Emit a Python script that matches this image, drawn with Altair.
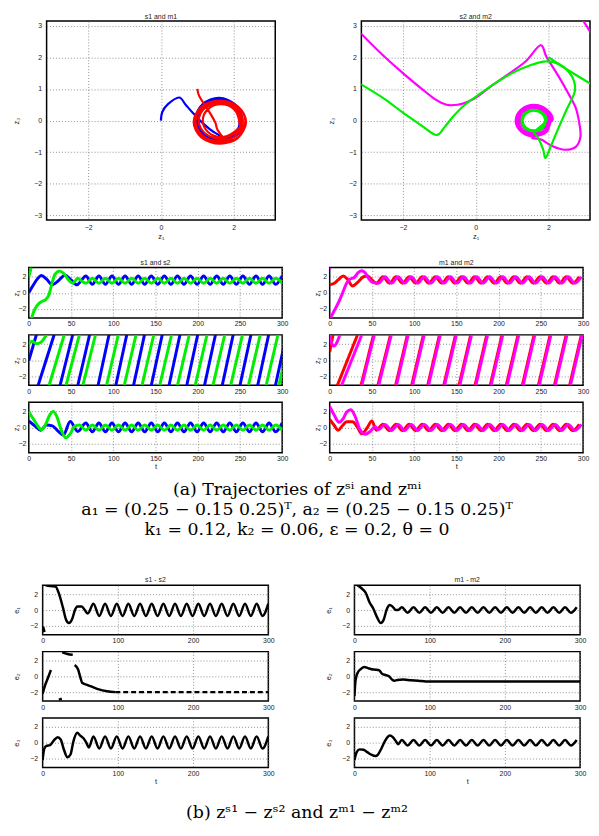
import altair as alt
import pandas as pd

PI = 3.1416
TOP = 3.16
BLUE, GREEN, RED, MAG, BLACK = "#0000ff", "#00ee00", "#ff0000", "#ff00ff", "#000000"
FONT = "Liberation Sans"
SERIF = "DejaVu Serif"

# ---------------- phase plots (z1 on x, z3 on y) ----------------
s1_phase = [(0.0, 0.0), (0.04, 0.28), (0.2, 0.53), (0.5, 0.73), (0.68, 0.5), (0.88, 0.24), (1.15, -0.08),
            (1.45, -0.36), (1.8, -0.55), (2.12, -0.42), (2.24, 0.02), (2.05, 0.5), (1.6, 0.72), (1.15, 0.52),
            (0.96, 0.04), (1.12, -0.46), (1.6, -0.66), (2.06, -0.46), (2.2, 0.0), (2.03, 0.45), (1.62, 0.64),
            (1.2, 0.46), (1.03, 0.0), (1.2, -0.44), (1.62, -0.62), (2.03, -0.44), (2.16, 0.04), (1.98, 0.52),
            (1.58, 0.7), (1.18, 0.5), (1.0, 0.04), (1.18, -0.44), (1.58, -0.63), (1.98, -0.43), (2.22, 0.02),
            (2.04, 0.48), (1.6, 0.68), (1.16, 0.48), (0.98, 0.02), (1.16, -0.45), (1.6, -0.65), (2.04, -0.45),
            (2.22, 0.02)]
m1_phase = [(1.0, 1.0), (1.05, 0.78), (1.2, 0.5), (1.38, 0.18), (1.5, -0.08), (1.56, -0.3), (1.8, -0.62),
            (2.13, -0.53), (2.34, -0.05), (2.13, 0.43), (1.62, 0.63), (1.11, 0.43), (0.9, -0.05), (1.11, -0.53),
            (1.62, -0.73), (2.13, -0.53), (2.15, 0.0), (2.0, 0.37), (1.65, 0.52), (1.3, 0.37), (1.15, 0.0),
            (1.3, -0.37), (1.65, -0.52), (2.0, -0.37), (2.25, -0.03), (2.06, 0.41), (1.6, 0.59), (1.14, 0.41),
            (0.95, -0.03), (1.14, -0.47), (1.6, -0.65), (2.06, -0.47), (2.2, 0.0), (2.03, 0.4), (1.62, 0.57),
            (1.21, 0.4), (1.04, 0.0), (1.21, -0.4), (1.62, -0.57), (2.03, -0.4), (2.32, -0.04), (2.12, 0.44),
            (1.62, 0.62), (1.12, 0.44), (0.92, -0.04), (1.12, -0.52), (1.62, -0.72), (2.12, -0.52), (2.32, -0.04)]
m2_phase_a = [(2.95, 3.16), (3.16, 2.78)]
m2_phase_b = [(-3.16, 2.76), (-2.6, 2.12), (-2.0, 1.5), (-1.5, 1.02), (-1.1, 0.66), (-0.8, 0.5), (-0.5, 0.5),
              (-0.2, 0.6), (0.1, 0.8), (0.5, 1.15), (1.0, 1.55), (1.4, 1.9), (1.78, 2.38), (1.95, 2.0),
              (2.25, 1.45), (2.55, 0.85), (2.75, 0.4), (2.85, -0.1), (2.88, -0.5), (2.76, -0.82), (2.45, -0.92),
              (2.1, -0.8), (1.8, -0.6), (1.55, -0.5), (2.1, 0.0), (1.95, 0.35), (1.6, 0.5), (1.25, 0.35),
              (1.1, 0.0), (1.25, -0.35), (1.6, -0.5), (1.95, -0.35), (2.02, 0.0), (1.9, 0.3), (1.6, 0.42),
              (1.3, 0.3), (1.18, 0.0), (1.3, -0.3), (1.6, -0.42), (1.9, -0.3), (1.96, 0.0), (1.85, 0.25),
              (1.6, 0.36), (1.35, 0.25), (1.24, 0.0), (1.35, -0.25), (1.6, -0.36), (1.85, -0.25), (2.07, 0.0),
              (1.93, 0.33), (1.6, 0.47), (1.27, 0.33), (1.13, 0.0), (1.27, -0.33), (1.6, -0.47), (1.93, -0.33),
              (2.07, 0.0)]
s2_phase_a = [(2.0, 2.0), (2.5, 1.62), (3.16, 1.16)]
s2_phase_b = [(-3.16, 1.15), (-2.5, 0.68), (-2.0, 0.25), (-1.5, -0.15), (-1.15, -0.43), (-1.0, -0.42),
              (-0.85, -0.2), (-0.6, 0.15), (-0.3, 0.5), (0.0, 0.75), (0.5, 1.15), (1.0, 1.5), (1.5, 1.75),
              (1.95, 1.87), (2.3, 1.78), (2.55, 1.55), (2.7, 1.25), (2.72, 0.9), (2.5, 0.35), (2.25, -0.3),
              (2.05, -0.85), (1.92, -1.18), (1.85, -0.9), (1.72, -0.55), (1.62, -0.36), (1.94, 0.0),
              (1.84, 0.24), (1.6, 0.34), (1.36, 0.24), (1.26, 0.0), (1.36, -0.24), (1.6, -0.34), (1.84, -0.24),
              (1.91, 0.0), (1.82, 0.22), (1.6, 0.31), (1.38, 0.22), (1.29, 0.0), (1.38, -0.22), (1.6, -0.31),
              (1.82, -0.22), (1.94, 0.0)]

# ---------------- steady-state time grids (extrema) ----------------
T_A = [67.5, 75.25, 83, 90.75, 98.5, 106.25, 114, 121.75, 129.5, 137.25, 145, 152.75, 160.5, 168.25, 176,
       183.75, 191.5, 199.25, 207, 214.75, 222.5, 230.25, 238, 245.75, 253.5, 261.25, 269, 276.75, 284.5,
       292.25, 300]
T_B = [63, 70.75, 78.5, 86.25, 94, 101.75, 109.5, 117.25, 125, 132.75, 140.5, 148.25, 156, 163.75, 171.5,
       179.25, 187, 194.75, 202.5, 210.25, 218, 225.75, 233.5, 241.25, 249, 256.75, 264.5, 272.25, 280,
       287.75, 295.5]
T_C = [65.5, 73.25, 81, 88.75, 96.5, 104.25, 112, 119.75, 127.5, 135.25, 143, 150.75, 158.5, 166.25, 174,
       181.75, 189.5, 197.25, 205, 212.75, 220.5, 228.25, 236, 243.75, 251.5, 259.25, 267, 274.75, 282.5,
       290.25, 298]

# ---------------- s1 / s2 time series ----------------
z1_s1_start = [(0, 0.0), (5, 0.9), (10, 1.7), (15, 2.15), (21, 1.7), (28, 1.0), (35, 1.5), (43, 2.2),
               (50, 1.6), (57, 1.0), (62, 1.5)]
z1_s1_osc = [2.1, 1.05, 2.1, 1.05, 2.1, 1.05, 2.1, 1.05, 2.1, 1.05, 2.1, 1.05, 2.1, 1.05, 2.1, 1.05,
             2.1, 1.05, 2.1, 1.05, 2.1, 1.05, 2.1, 1.05, 2.1, 1.05, 2.1, 1.05, 2.1, 1.05, 2.1]
z1_s2_a = [(0, 2.0), (1.8, 2.7), (3, 3.16)]
z1_s2_b = [(3.3, -3.16), (6, -2.3), (10, -1.55), (15, -1.1), (20, -0.85), (24, -0.2), (27, 1.0), (31, 2.3),
           (36, 2.7), (42, 2.35), (47, 1.6), (52, 1.2), (58, 1.8), (62, 1.5)]
z1_s2_osc = [1.2, 1.8, 1.2, 1.8, 1.2, 1.8, 1.2, 1.8, 1.2, 1.8, 1.2, 1.8, 1.2, 1.8, 1.2, 1.8,
             1.2, 1.8, 1.2, 1.8, 1.2, 1.8, 1.2, 1.8, 1.2, 1.8, 1.2, 1.8, 1.2, 1.8, 1.2]
z2_s1_start = [(0, -0.05), (9, 3.16)]
z2_s1_ramps = [(11, 30), (37, 52), (58, 72), (82, 95), (103, 116), (124, 137), (145, 158), (166, 179),
               (187, 200), (208, 221), (229, 242), (250, 263), (271, 284), (292, 305)]
z2_s2_start = [(0, 2.0), (4, 2.35), (9, 2.05), (14, 2.2), (21, 3.16)]
z2_s2_ramps = [(24, 42), (44, 60), (64, 79), (92, 106), (113, 127), (134, 148), (155, 169), (176, 190),
               (197, 211), (218, 232), (239, 253), (260, 274), (281, 295), (296, 310)]
z3_s1_start = [(0, 0.8), (7, 0.2), (14, -0.35), (21, 0.3), (28, 0.2), (35, -0.5), (41, -0.95), (49, 0.75),
               (58, -0.5)]
z3_s1_osc = [0.55, -0.55, 0.55, -0.55, 0.55, -0.55, 0.55, -0.55, 0.55, -0.55, 0.55, -0.55, 0.55, -0.55,
             0.55, -0.55, 0.55, -0.55, 0.55, -0.55, 0.55, -0.55, 0.55, -0.55, 0.55, -0.55, 0.55, -0.55,
             0.55, -0.55, 0.55]
z3_s2_start = [(0, 2.0), (5, 1.1), (10, 0.3), (15, -0.3), (20, 0.4), (25, 1.6), (29, 2.0), (33, 1.4),
               (38, -0.2), (44, -1.3), (49, -0.8), (54, 0.1), (60, 0.3)]
z3_s2_osc = [-0.35, 0.3, -0.35, 0.3, -0.35, 0.3, -0.35, 0.3, -0.35, 0.3, -0.35, 0.3, -0.35, 0.3, -0.35,
             0.3, -0.35, 0.3, -0.35, 0.3, -0.35, 0.3, -0.35, 0.3, -0.35, 0.3, -0.35, 0.3, -0.35, 0.3, -0.35]

# ---------------- m1 / m2 time series ----------------
z1_m1_start = [(0, 1.0), (5, 1.15), (10, 1.6), (16, 2.1), (21, 1.7), (27, 0.85), (33, 1.3), (40, 2.0),
               (45, 2.1), (50, 1.6), (55.25, 1.2)]
z1_m1_osc = [2.0, 1.2, 2.0, 1.2, 2.0, 1.2, 2.0, 1.2, 2.0, 1.2, 2.0, 1.2, 2.0, 1.2, 2.0, 1.2,
             2.0, 1.2, 2.0, 1.2, 2.0, 1.2, 2.0, 1.2, 2.0, 1.2, 2.0, 1.2, 2.0, 1.2, 2.0]
z1_m2_a = [(0, 3.0), (0.6, 3.16)]
z1_m2_b = [(0.8, -3.16), (5, -2.3), (10, -1.3), (15, -0.1), (20, 1.2), (24, 1.7), (29, 1.9), (34, 2.55),
           (38, 2.75), (42, 2.5), (46, 1.8), (51, 1.3), (57.75, 1.2)]
z1_m2_osc = [2.0, 1.2, 2.0, 1.2, 2.0, 1.2, 2.0, 1.2, 2.0, 1.2, 2.0, 1.2, 2.0, 1.2, 2.0, 1.2,
             2.0, 1.2, 2.0, 1.2, 2.0, 1.2, 2.0, 1.2, 2.0, 1.2, 2.0, 1.2, 2.0, 1.2, 2.0]
z2_m1_start = [(0, 1.0), (4, 3.16)]
z2_m1_ramps = [(9, 33), (37, 52), (57, 72), (78, 92), (97, 111), (116, 130), (135, 149), (153, 167),
               (172, 186), (190, 204), (209, 223), (228, 242), (247, 261), (266, 280), (284, 298)]
z2_m2_start = [(0, 3.16), (2, 2.2), (5, 1.75), (9, 2.3), (12, 3.16)]
z2_m2_ramps = [(14, 38), (38, 53), (58, 73), (79, 93), (98, 112), (117, 131), (136, 150), (154, 168),
               (173, 187), (191, 205), (210, 224), (229, 243), (248, 262), (267, 281), (285, 299)]
z3_m1_start = [(0, 1.0), (5, 0.3), (10, -0.35), (15, 0.2), (20, 0.7), (27, 0.7), (33, 0.0), (38, -0.8),
               (44, -0.1), (50, 0.8), (55.25, -0.35)]
z3_m1_osc = [0.4, -0.4, 0.4, -0.4, 0.4, -0.4, 0.4, -0.4, 0.4, -0.4, 0.4, -0.4, 0.4, -0.4, 0.4, -0.4,
             0.4, -0.4, 0.4, -0.4, 0.4, -0.4, 0.4, -0.4, 0.4, -0.4, 0.4, -0.4, 0.4, -0.4, 0.4]
z3_m2_start = [(0, 2.6), (5, 1.6), (11, 0.65), (16, 1.1), (20, 1.9), (25, 2.2), (30, 1.4), (36, -0.3),
               (42, -0.85), (48, -0.5), (54, 0.1), (57.75, -0.3)]
z3_m2_osc = [0.38, -0.38, 0.38, -0.38, 0.38, -0.38, 0.38, -0.38, 0.38, -0.38, 0.38, -0.38, 0.38, -0.38,
             0.38, -0.38, 0.38, -0.38, 0.38, -0.38, 0.38, -0.38, 0.38, -0.38, 0.38, -0.38, 0.38, -0.38,
             0.38, -0.38, 0.38]

# ---------------- differences ----------------
e1_s_a = [(0.5, -2.1), (2.5, -2.8)]
e1_s_b = [(4, 3.16), (10, 3.05), (17, 3.0), (22, 2.0), (27, 0.3), (31, -1.2), (35, -1.65), (39, -1.2),
          (43, 0.0), (46, 0.45), (52, 0.45), (56, 0.0), (60, -0.45)]
e1_s_osc = [0.8, -0.75, 0.8, -0.75, 0.8, -0.75, 0.8, -0.75, 0.8, -0.75, 0.8, -0.75, 0.8, -0.75, 0.8, -0.75,
            0.8, -0.75, 0.8, -0.75, 0.8, -0.75, 0.8, -0.75, 0.8, -0.75, 0.8, -0.75, 0.8, -0.75, 0.8]
e2_s_segs = [[(0, -2.2), (3, -1.2), (7, -0.2), (11, 0.8)],
             [(21.5, -2.95), (25.5, -2.85)],
             [(26, 3.05), (33, 2.85), (40, 2.75)],
             [(42.6, 1.45), (47, 0.9), (50.5, -0.25), (52.7, -0.85), (59, -1.07), (72.5, -1.58),
              (85.6, -1.9), (96.6, -2.0)]]
e2_s_tail = [(96.6, -2.0), (300, -2.0)]
e3_s_start = [(0, -2.2), (2, -0.8), (5, -0.4), (10, -0.3), (15, 0.3), (20, 0.7), (24, 0.4), (28, -0.8),
              (33, -1.85), (37, -1.5), (41, 0.2), (46, 1.25), (50, 0.9), (54, 0.6), (58, 0.0), (61.5, -0.6)]
e3_s_osc = [0.8, -0.75, 0.8, -0.75, 0.8, -0.75, 0.8, -0.75, 0.8, -0.75, 0.8, -0.75, 0.8, -0.75, 0.8, -0.75,
            0.8, -0.75, 0.8, -0.75, 0.8, -0.75, 0.8, -0.75, 0.8, -0.75, 0.8, -0.75, 0.8, -0.75, 0.8]
e1_m_start = [(4, 3.16), (9, 2.8), (15, 2.2), (20, 1.0), (25, 0.2), (30, -0.9), (35, -1.65), (39, -1.2),
              (43, 0.1), (47, 0.65), (51, 0.4), (55, 0.0), (58, 0.0)]
e1_m_osc = [0.35, -0.35, 0.35, -0.35, 0.35, -0.35, 0.35, -0.35, 0.35, -0.35, 0.35, -0.35, 0.35, -0.35,
            0.35, -0.35, 0.35, -0.35, 0.35, -0.35, 0.35, -0.35, 0.35, -0.35, 0.35, -0.35, 0.35, -0.35,
            0.35, -0.35, 0.35]
e2_m = [(0, -2.5), (1.5, -0.5), (4, 0.4), (8, 0.9), (13, 1.2), (18, 1.05), (23, 0.9), (28, 0.85),
        (33, 0.75), (37, 0.3), (42, 0.15), (46, 0.0), (50, -0.4), (53, -0.55), (57, -0.45), (65, -0.4),
        (75, -0.5), (85, -0.55), (95, -0.65), (100, -0.65), (300, -0.65)]
e3_m_start = [(0, -2.2), (3, -1.2), (7, -0.85), (12, -0.9), (17, -1.2), (22, -1.5), (28, -1.7), (31, -1.55),
              (35, -0.9), (40, 0.1), (44, 0.7), (47, 0.9), (51, 0.7), (55, 0.2), (58, -0.2)]
e3_m_osc = [0.35, -0.35, 0.35, -0.35, 0.35, -0.35, 0.35, -0.35, 0.35, -0.35, 0.35, -0.35, 0.35, -0.35,
            0.35, -0.35, 0.35, -0.35, 0.35, -0.35, 0.35, -0.35, 0.35, -0.35, 0.35, -0.35, 0.35, -0.35,
            0.35, -0.35, 0.35]

caption_a = ["(a)   Trajectories  of  zˢⁱ  and  zᵐⁱ",
             "a₁ = (0.25   − 0.15 0.25)ᵀ,  a₂ = (0.25   − 0.15 0.25)ᵀ",
             "k₁ = 0.12,  k₂ = 0.06,  ε = 0.2,  θ = 0"]
caption_b = ["(b)  zˢ¹  −  zˢ²  and  zᵐ¹  −  zᵐ²"]


# ---------------- helpers to build tables ----------------
def ts_frame(*segments):
    rows = []
    for gi, seg in enumerate(segments):
        for t, v in seg:
            rows.append({"t": t, "v": v, "g": gi})
    return pd.DataFrame(rows)


def with_osc(start, times, vals):
    return list(start) + list(zip(times, vals))


def ramps(pairs):
    return [[(b, -TOP), (e, TOP)] for b, e in pairs]


def phase_frame(*segments):
    rows = []
    i = 0
    for gi, seg in enumerate(segments):
        for x, y in seg:
            rows.append({"x": x, "y": y, "g": gi, "i": i})
            i += 1
    return pd.DataFrame(rows)


def x_axis(vals, title, pad=2, title_pad=1):
    return alt.Axis(values=vals, title=title, grid=True, gridDash=[1, 2], gridColor="#777", gridWidth=0.8,
                    ticks=False, domain=False, labelFontSize=7, labelFont=FONT, labelColor="#222",
                    labelPadding=pad, labelFlush=False, titleFontSize=7.5, titleFont=FONT,
                    titleFontWeight="normal", titlePadding=title_pad, titleColor="#222")


def y_axis(vals, title, label_pad, ext, title_pad):
    return alt.Axis(values=vals, title=title, grid=True, gridDash=[1, 2], gridColor="#777", gridWidth=0.8,
                    ticks=False, domain=False, labelFontSize=7, labelFont=FONT, labelColor="#222",
                    labelPadding=label_pad, minExtent=ext, maxExtent=ext, labelFlush=False,
                    titleFontSize=7.5, titleFont=FONT, titleFontWeight="normal", titlePadding=title_pad,
                    titleColor="#222")


def panel_title(text, offset=2):
    return alt.TitleParams(text=text, fontSize=7, font=FONT, fontWeight="normal", color="#222", offset=offset)


def ts_panel(series, w, h, xvals, xtitle, ytitle, ystyle, title=None):
    xa = x_axis(xvals, xtitle)
    ya = y_axis([-2, 0, 2], ytitle, *ystyle)
    layers = []
    for df, color, sw, dash in series:
        mk = dict(color=color, strokeWidth=sw, interpolate="monotone", clip=True)
        if dash:
            mk["strokeDash"] = dash
        layers.append(alt.Chart(df).mark_line(**mk).encode(
            x=alt.X("t:Q", scale=alt.Scale(domain=[0, 300], nice=False, zero=False), axis=xa),
            y=alt.Y("v:Q", scale=alt.Scale(domain=[-PI, PI], nice=False, zero=False), axis=ya),
            detail="g:N"))
    ch = alt.layer(*layers).properties(width=w, height=h)
    if title:
        ch = ch.properties(title=panel_title(title))
    return ch


def phase_panel(series, title, w, h):
    xa = x_axis([-2, 0, 2], "z₁", 4, 2)
    ya = y_axis([-3, -2, -1, 0, 1, 2, 3], "z₃", 5, 12, 14)
    layers = []
    for df, color in series:
        layers.append(alt.Chart(df).mark_line(color=color, strokeWidth=2.2, interpolate="cardinal",
                                              clip=True).encode(
            x=alt.X("x:Q", scale=alt.Scale(domain=[-PI, PI], nice=False, zero=False), axis=xa),
            y=alt.Y("y:Q", scale=alt.Scale(domain=[-PI, PI], nice=False, zero=False), axis=ya),
            order="i:Q", detail="g:N"))
    return alt.layer(*layers).properties(width=w, height=h, title=panel_title(title, 1))


def spacer(w, h):
    return alt.Chart(pd.DataFrame({"a": [0]})).mark_point(opacity=0, size=1).encode(
        x=alt.value(0), y=alt.value(0)).properties(width=w, height=h,
                                                   view=alt.ViewBackground(stroke="transparent"))


def caption(lines, w, h, size):
    df = pd.DataFrame({"r": list(range(len(lines))), "txt": lines})
    return alt.Chart(df).mark_text(font=SERIF, fontSize=size, color="black", baseline="middle").encode(
        y=alt.Y("r:O", axis=None), text="txt:N").properties(
        width=w, height=h, view=alt.ViewBackground(stroke="transparent"))


# ---------------- top row ----------------
TL = phase_panel([(phase_frame(s1_phase), BLUE), (phase_frame(m1_phase), RED)], "s1 and m1", 231, 201)
TR = phase_panel([(phase_frame(m2_phase_a, m2_phase_b), MAG), (phase_frame(s2_phase_a, s2_phase_b), GREEN)],
                 "s2 and m2", 231, 201)
top_row = alt.hconcat(spacer(1, 1), alt.hconcat(TL, TR, spacing=51), spacing=0)

# ---------------- middle rows ----------------
MW, MH = 256, 51
MS = (3, 7, 1)
XT = [0, 50, 100, 150, 200, 250, 300]
L1 = ts_panel([(ts_frame(with_osc(z1_s1_start, T_A, z1_s1_osc)), BLUE, 3, None),
               (ts_frame(z1_s2_a, with_osc(z1_s2_b, T_A, z1_s2_osc)), GREEN, 3, None)],
              MW, MH, XT, None, "z₁", MS, "s1 and s2")
L2 = ts_panel([(ts_frame(z2_s1_start, *ramps(z2_s1_ramps)), BLUE, 3, None),
               (ts_frame(z2_s2_start, *ramps(z2_s2_ramps)), GREEN, 3, None)],
              MW, MH, XT, None, "z₂", MS)
L3 = ts_panel([(ts_frame(with_osc(z3_s1_start, T_A, z3_s1_osc)), BLUE, 3, None),
               (ts_frame(with_osc(z3_s2_start, T_A, z3_s2_osc)), GREEN, 3, None)],
              MW, MH, XT, "t", "z₃", MS)
R1 = ts_panel([(ts_frame(with_osc(z1_m1_start, T_B, z1_m1_osc)), RED, 3, None),
               (ts_frame(z1_m2_a, with_osc(z1_m2_b, T_C, z1_m2_osc)), MAG, 3, None)],
              MW, MH, XT, None, "z₁", MS, "m1 and m2")
R2 = ts_panel([(ts_frame(z2_m1_start, *ramps(z2_m1_ramps)), RED, 3, None),
               (ts_frame(z2_m2_start, *ramps(z2_m2_ramps)), MAG, 3, None)],
              MW, MH, XT, None, "z₂", MS)
R3 = ts_panel([(ts_frame(with_osc(z3_m1_start, T_B, z3_m1_osc)), RED, 3, None),
               (ts_frame(with_osc(z3_m2_start, T_C, z3_m2_osc)), MAG, 3, None)],
              MW, MH, XT, "t", "z₃", MS)
mid_row = alt.hconcat(spacer(1, 1), alt.hconcat(alt.vconcat(L1, L2, L3, spacing=6),
                                                 alt.vconcat(R1, R2, R3, spacing=6), spacing=24), spacing=0)

# ---------------- bottom rows ----------------
BW, BH = 228, 50
BS = (5, 15, 7)
XB = [0, 100, 200, 300]
B1 = ts_panel([(ts_frame(e1_s_a, with_osc(e1_s_b, T_A, e1_s_osc)), BLACK, 2.5, None)],
              BW, BH, XB, None, "e₁", BS, "s1 - s2")
B2 = ts_panel([(ts_frame(*e2_s_segs), BLACK, 2.5, None), (ts_frame(e2_s_tail), BLACK, 2.5, [5, 3])],
              BW, BH, XB, None, "e₂", BS)
B3 = ts_panel([(ts_frame(with_osc(e3_s_start, T_A, e3_s_osc)), BLACK, 2.5, None)],
              BW, BH, XB, "t", "e₃", BS)
C1 = ts_panel([(ts_frame(with_osc(e1_m_start, T_B, e1_m_osc)), BLACK, 2.5, None)],
              BW, BH, XB, None, "e₁", BS, "m1 - m2")
C2 = ts_panel([(ts_frame(e2_m), BLACK, 2.5, None)], BW, BH, XB, None, "e₂", BS)
C3 = ts_panel([(ts_frame(with_osc(e3_m_start, T_B, e3_m_osc)), BLACK, 2.5, None)],
              BW, BH, XB, "t", "e₃", BS)
bot_row = alt.hconcat(spacer(1, 1), alt.hconcat(alt.vconcat(B1, B2, B3, spacing=6),
                                                 alt.vconcat(C1, C2, C3, spacing=6), spacing=49), spacing=0)

chart = alt.vconcat(
    top_row,
    spacer(1, 13),
    mid_row,
    spacer(1, 5),
    caption(caption_a, 580, 60, 17.5),
    spacer(1, 32),
    bot_row,
    spacer(1, 8),
    caption(caption_b, 580, 30, 17.5),
    spacing=0,
    padding=0,
).configure_view(stroke="black", strokeWidth=1.5)

chart.save("out.html", embed_options={"renderer": "svg", "actions": False})
